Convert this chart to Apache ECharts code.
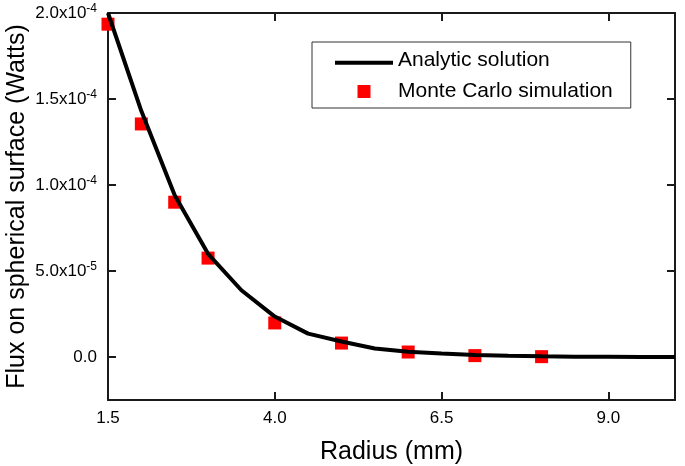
<!DOCTYPE html>
<html>
<head>
<meta charset="utf-8">
<script src="https://cdn.jsdelivr.net/npm/echarts@6/dist/echarts.min.js"></script>
<style>
html,body{margin:0;padding:0;background:#fff;}
#chart{width:685px;height:466px;}
</style>
</head>
<body>
<div id="chart"></div>
<script>
// Monte Carlo simulation points
const mcRadius = [1.5, 2.0, 2.5, 3.0, 4.0, 5.0, 6.0, 7.0, 8.0];
const mcFlux = [1.935e-4, 1.355e-4, 9.0e-5, 5.75e-5, 1.98e-5, 8.1e-6, 2.9e-6, 8e-7, 2e-7];

// Analytic solution curve
const analyticRadius = [1.5, 2.0, 2.5, 3.0, 3.5, 4.0, 4.5, 5.0, 5.5, 6.0, 6.5, 7.0, 7.5, 8.0, 8.5, 9.0, 9.5, 10.0];
const analyticFlux = [2.0e-4, 1.43e-4, 9.4e-5, 6.0e-5, 3.88e-5, 2.35e-5, 1.36e-5, 9.0e-6, 4.9e-6, 3.0e-6, 2.0e-6, 1.1e-6, 7e-7, 4e-7, 2e-7, 1e-7, 0, 0];

// Tick values and labels
const xTicks = [1.5, 4.0, 6.5, 9.0];
const xTickLabels = ['1.5', '4.0', '6.5', '9.0'];
const yTicks = [0, 5e-5, 1e-4, 1.5e-4, 2e-4];
const yTickMantissa = ['0.0', '5.0x10', '1.0x10', '1.5x10', '2.0x10'];
const yTickExp = ['', '-5', '-4', '-4', '-4'];

const seriesNames = ['Analytic solution', 'Monte Carlo simulation'];

function nearestIdx(arr, v) {
  let best = 0, bd = Infinity;
  arr.forEach((a, i) => { const d = Math.abs(a - v); if (d < bd) { bd = d; best = i; } });
  return best;
}

const FONT = 'Liberation Sans, Arial, sans-serif';
const AX = '#1a1a1a';

const chart = echarts.init(document.getElementById('chart'), null, {renderer: 'canvas'});

const axisLineStyle = {show: true, onZero: false, lineStyle: {color: AX, width: 2}};
const tickStyle = (vals) => ({show: true, inside: true, length: 8, lineStyle: {color: AX, width: 2}, customValues: vals});

chart.setOption({
  animation: false,
  backgroundColor: '#fff',
  grid: {left: 108, top: 13, right: 10, bottom: 66, containLabel: false, outerBoundsMode: 'none'},
  legend: {
    orient: 'vertical',
    left: 312,
    top: 42,
    padding: [8, 18, 6, 23],
    itemGap: 10,
    itemWidth: 58,
    itemHeight: 13,
    symbolKeepAspect: true,
    borderColor: '#333',
    borderWidth: 1,
    textStyle: {fontFamily: FONT, fontSize: 21, color: '#000'},
    data: [
      {name: seriesNames[0], icon: 'path://M0,0L0,0M0,4.5L58,4.5L58,8.5L0,8.5Z'},
      {name: seriesNames[1], icon: 'path://M0,0L0,0M58,13L58,13M22.5,0L35.5,0L35.5,13L22.5,13Z'}
    ]
  },
  xAxis: [{
    type: 'value', min: 1.5, max: 10, position: 'bottom',
    axisLine: axisLineStyle,
    axisTick: tickStyle(xTicks),
    splitLine: {show: false},
    axisLabel: {
      customValues: xTicks, margin: 10,
      fontFamily: FONT, fontSize: 17, color: '#000',
      formatter: (v) => xTickLabels[nearestIdx(xTicks, v)]
    },
    name: 'Radius (mm)', nameLocation: 'middle', nameGap: 40, nameMoveOverlap: false,
    nameTextStyle: {fontFamily: FONT, fontSize: 25, color: '#000'}
  }, {
    type: 'value', min: 1.5, max: 10, position: 'top',
    axisLine: axisLineStyle,
    axisTick: tickStyle(xTicks),
    axisLabel: {show: false},
    splitLine: {show: false}
  }],
  yAxis: [{
    type: 'value', min: -2.5e-5, max: 2e-4, position: 'left',
    axisLine: axisLineStyle,
    axisTick: tickStyle(yTicks),
    splitLine: {show: false},
    axisLabel: {
      customValues: yTicks, margin: 11,
      fontFamily: FONT, color: '#000',
      formatter: (v) => {
        const i = nearestIdx(yTicks, v);
        return yTickExp[i] ? '{m|' + yTickMantissa[i] + '}{e|' + yTickExp[i] + '}' : '{m|' + yTickMantissa[i] + '}';
      },
      rich: {
        m: {fontFamily: FONT, fontSize: 17, color: '#000'},
        e: {fontFamily: FONT, fontSize: 12, color: '#000', verticalAlign: 'top', padding: [0, 0, 9, 0]}
      }
    },
    name: 'Flux on spherical surface (Watts)', nameLocation: 'middle', nameGap: 78, nameMoveOverlap: false,
    nameTextStyle: {fontFamily: FONT, fontSize: 25, color: '#000'}
  }, {
    type: 'value', min: -2.5e-5, max: 2e-4, position: 'right',
    axisLine: axisLineStyle,
    axisTick: tickStyle(yTicks),
    axisLabel: {show: false},
    splitLine: {show: false}
  }],
  series: [{
    name: seriesNames[0],
    type: 'line',
    xAxisIndex: 0, yAxisIndex: 0,
    symbol: 'none',
    smooth: false,
    clip: false,
    lineStyle: {color: '#000', width: 4},
    itemStyle: {color: '#000'},
    data: analyticRadius.map((r, i) => [r, analyticFlux[i]])
  }, {
    name: seriesNames[1],
    type: 'scatter',
    xAxisIndex: 0, yAxisIndex: 0,
    symbol: 'rect',
    symbolSize: 13,
    clip: false,
    itemStyle: {color: '#ff0000', opacity: 1},
    data: mcRadius.map((r, i) => [r, mcFlux[i]])
  }]
});
</script>
</body>
</html>
